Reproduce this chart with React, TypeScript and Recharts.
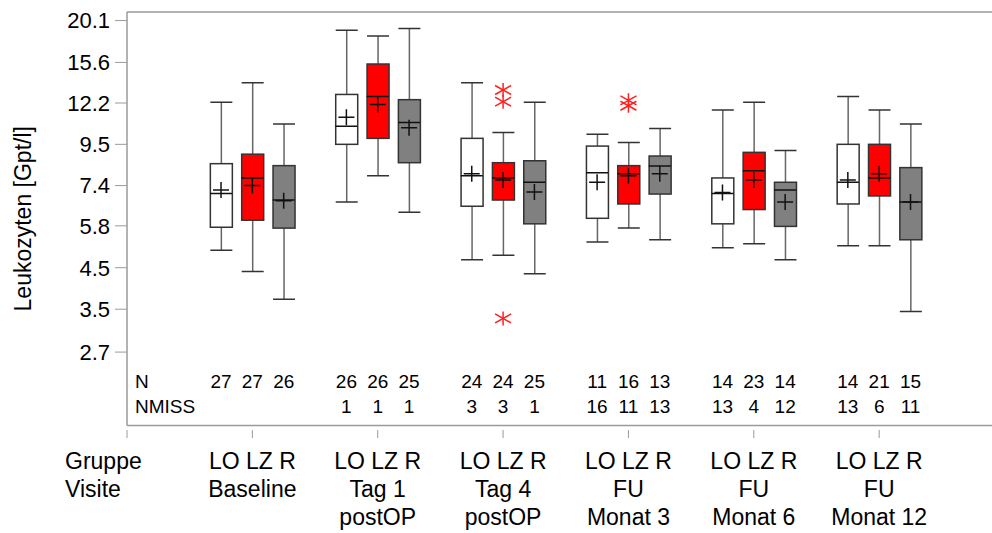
import React from 'react';
import { ComposedChart, Bar, Scatter, XAxis, YAxis, ReferenceLine } from 'recharts';

const FONT = '"Liberation Sans", Arial, Helvetica, sans-serif';
const FRAME = '#9a9a9a';

const groups = ['LO', 'LZ', 'R'];
const groupFill = ['#ffffff', '#ff0000', '#808080'];
const visitLines = [
  ['Baseline'],
  ['Tag 1', 'postOP'],
  ['Tag 4', 'postOP'],
  ['FU', 'Monat 3'],
  ['FU', 'Monat 6'],
  ['FU', 'Monat 12'],
];

// one entry per box, visit by visit in the order LO, LZ, R
const whiskerLow = [5.0, 4.4, 3.72, 6.7, 7.85, 6.3, 4.72, 4.85, 4.34, 5.26, 5.72, 5.33, 5.08, 5.2, 4.72, 5.14, 5.14, 3.45];
const q1 = [5.75, 6.0, 5.72, 9.5, 9.85, 8.5, 6.53, 6.78, 5.87, 6.07, 6.62, 7.03, 5.87, 6.4, 5.78, 6.62, 6.95, 5.33];
const median = [7.05, 7.75, 6.78, 10.6, 12.7, 10.85, 7.85, 7.75, 7.55, 8.0, 7.95, 8.33, 7.05, 8.1, 7.2, 7.55, 7.75, 6.7];
const q3 = [8.45, 8.95, 8.35, 12.85, 15.45, 12.45, 9.85, 8.5, 8.6, 9.4, 8.35, 8.85, 7.75, 9.05, 7.55, 9.5, 9.5, 8.25];
const whiskerHigh = [12.25, 13.8, 10.75, 18.95, 18.3, 19.15, 13.8, 10.2, 12.25, 10.1, 9.6, 10.45, 11.7, 12.25, 9.15, 12.7, 11.7, 10.75];
const mean = [7.2, 7.4, 6.75, 11.2, 12.1, 10.5, 7.95, 7.65, 7.12, 7.55, 7.85, 7.95, 7.1, 7.65, 6.7, 7.65, 7.95, 6.7];
const nCount = ['27', '27', '26', '26', '26', '25', '24', '24', '25', '11', '16', '13', '14', '23', '14', '14', '21', '15'];
const nMiss = ['', '', '', '1', '1', '1', '3', '3', '1', '16', '11', '13', '13', '4', '12', '13', '6', '11'];

// outliers (visit index, group index, value)
const outlierVisit = [2, 2, 2, 3, 3];
const outlierGroup = [1, 1, 1, 1, 1];
const outlierValue = [13.2, 12.3, 3.31, 12.4, 12.0];

const yTicks = [2.7, 3.5, 4.5, 5.8, 7.4, 9.5, 12.2, 15.6, 20.1];
const Y_MIN = 1.731;
const Y_MAX = 21.17;
const X_MAX = 6.9;

const boxX = (visit: number, group: number) => visit + 1 + (group - 1) * 0.25;

const rows = median.map((_, i) => {
  const visit = Math.floor(i / 3);
  const group = i % 3;
  return {
    x: boxX(visit, group),
    visit,
    group,
    whisker: [whiskerLow[i], whiskerHigh[i]],
    box: [q1[i], q3[i]],
    median: median[i],
    mean: mean[i],
    n: nCount[i],
    nmiss: nMiss[i],
  };
});

const outliers = outlierValue.map((value, i) => ({ x: boxX(outlierVisit[i], outlierGroup[i]), value }));

const xTicks = [0, ...rows.map(r => r.x)];

const Whisker = (props: any) => {
  const { x, y, width, height } = props;
  const top = Math.min(y, y + height);
  const bottom = Math.max(y, y + height);
  const cx = x + width / 2;
  return (
    <g>
      <line x1={cx} x2={cx} y1={top} y2={bottom} stroke="#666" strokeWidth={1.5} />
      <line x1={x} x2={x + width} y1={top} y2={top} stroke="#333" strokeWidth={1.5} />
      <line x1={x} x2={x + width} y1={bottom} y2={bottom} stroke="#333" strokeWidth={1.5} />
    </g>
  );
};

const BoxShape = (props: any) => {
  const { x, y, width, height, payload } = props;
  return (
    <rect
      x={x}
      y={Math.min(y, y + height)}
      width={width}
      height={Math.abs(height)}
      fill={groupFill[payload.group]}
      stroke="#333"
      strokeWidth={1.5}
    />
  );
};

const MedianMark = ({ cx, cy }: any) => (
  <line x1={cx - 11} x2={cx + 11} y1={cy} y2={cy} stroke="#111" strokeWidth={1.5} />
);

const MeanMark = ({ cx, cy }: any) => (
  <g stroke="#111" strokeWidth={1.5}>
    <line x1={cx - 8} x2={cx + 8} y1={cy} y2={cy} />
    <line x1={cx} x2={cx} y1={cy - 8} y2={cy + 8} />
  </g>
);

const Star = ({ cx, cy }: any) => (
  <g stroke="#ff2020" strokeWidth={1.5}>
    <line x1={cx - 8} y1={cy - 4.5} x2={cx + 8} y2={cy + 4.5} />
    <line x1={cx - 8} y1={cy + 4.5} x2={cx + 8} y2={cy - 4.5} />
    <line x1={cx} y1={cy - 7} x2={cx} y2={cy + 7} />
  </g>
);

// bottom axis: N / NMISS rows inside the frame, group and visit labels below
const XTick = (props: any) => {
  const { x, y, payload } = props;
  const v = payload.value;
  if (v === 0) {
    return (
      <g fontFamily={FONT} fill="#000">
        <line x1={x} x2={x} y1={y + 4.5} y2={y + 12.5} stroke={FRAME} />
        <text x={x + 8} y={y - 37.5} fontSize={19}>N</text>
        <text x={x + 8} y={y - 12.5} fontSize={19}>NMISS</text>
        <text x={x - 62} y={y + 43.8} fontSize={23}>Gruppe</text>
        <text x={x - 62} y={y + 71.2} fontSize={23}>Visite</text>
      </g>
    );
  }
  const row = rows.find(r => Math.abs(r.x - v) < 1e-6);
  if (!row) return null;
  return (
    <g fontFamily={FONT} fill="#000" textAnchor="middle">
      <text x={x} y={y - 37.5} fontSize={19}>{row.n}</text>
      <text x={x} y={y - 12.5} fontSize={19}>{row.nmiss}</text>
      {row.group === 1 && (
        <>
          <line x1={x} x2={x} y1={y + 4.5} y2={y + 12.5} stroke={FRAME} />
          <text x={x} y={y + 43.8} fontSize={23}>{groups.join(' ')}</text>
          {visitLines[row.visit].map((line, k) => (
            <text key={k} x={x} y={y + 71.2 + k * 28.3} fontSize={23}>{line}</text>
          ))}
        </>
      )}
    </g>
  );
};

const YTitle = (props: any) => {
  const { viewBox } = props;
  const cy = viewBox.y + viewBox.height / 2;
  return (
    <text
      transform={`translate(31, ${cy}) rotate(-90)`}
      textAnchor="middle"
      fontSize={23}
      fontFamily={FONT}
      fill="#000"
    >
      Leukozyten [Gpt/l]
    </text>
  );
};

export default function App() {
  return (
    <div style={{ position: 'absolute', left: 0, top: 0, background: '#fff' }}>
      <ComposedChart width={992} height={533} data={rows} margin={{ top: 12, right: 0, bottom: 7.5, left: 0 }}>
        <XAxis
          xAxisId="main"
          type="number"
          dataKey="x"
          domain={[0, X_MAX]}
          allowDataOverflow
          ticks={xTicks}
          interval={0}
          tick={<XTick />}
          tickLine={false}
          tickSize={0}
          tickMargin={0}
          height={100}
          axisLine={{ stroke: FRAME, strokeWidth: 1.5 }}
        />
        <XAxis xAxisId="box" type="number" dataKey="x" domain={[0, X_MAX]} allowDataOverflow height={0} hide />
        <YAxis
          type="number"
          scale="log"
          domain={[Y_MIN, Y_MAX]}
          allowDataOverflow
          ticks={yTicks}
          interval={0}
          tickFormatter={(v: number) => v.toFixed(1)}
          width={127}
          tickSize={12}
          tickMargin={5}
          tick={{ fontSize: 22, fill: '#000', fontFamily: FONT }}
          axisLine={{ stroke: FRAME, strokeWidth: 1.5 }}
          tickLine={{ stroke: FRAME }}
          label={<YTitle />}
        />
        <ReferenceLine xAxisId="main" y={Y_MAX} stroke={FRAME} strokeWidth={1.5} ifOverflow="visible" />
        <Bar xAxisId="main" dataKey="whisker" barSize={22} shape={Whisker} isAnimationActive={false} />
        <Bar xAxisId="box" dataKey="box" barSize={22} shape={BoxShape} isAnimationActive={false} />
        <Scatter xAxisId="main" data={rows} dataKey="median" shape={MedianMark} isAnimationActive={false} />
        <Scatter xAxisId="main" data={rows} dataKey="mean" shape={MeanMark} isAnimationActive={false} />
        <Scatter xAxisId="main" data={outliers} dataKey="value" shape={Star} isAnimationActive={false} />
      </ComposedChart>
    </div>
  );
}
